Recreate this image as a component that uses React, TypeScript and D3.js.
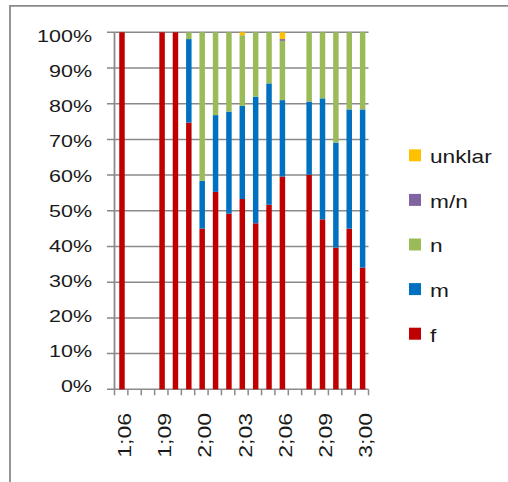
import React from 'react';
import * as d3 from 'd3';

// Monthly age points (years;months)
const categories = [
  '1;06', '1;07', '1;08', '1;09', '1;10', '1;11',
  '2;00', '2;01', '2;02', '2;03', '2;04', '2;05',
  '2;06', '2;07', '2;08', '2;09', '2;10', '2;11', '3;00',
];
const xTickLabels = ['1;06', '1;09', '2;00', '2;03', '2;06', '2;09', '3;00'];

// Stacked shares in percent, bottom to top: f, m, n, m/n, unklar
const seriesNames = ['f', 'm', 'n', 'm/n', 'unklar'];
const seriesColors = ['#C00000', '#0070C0', '#9BBB59', '#8064A2', '#FFC000'];
const fValues = [100, 0, 0, 100, 100, 74.7, 45.0, 55.3, 49.2, 53.3, 46.5, 51.7, 59.6, 0, 60.1, 47.6, 39.7, 45.0, 34.1];
const mValues = [0, 0, 0, 0, 0, 23.4, 13.4, 21.5, 28.6, 26.1, 35.5, 34.0, 21.4, 0, 20.5, 33.9, 29.4, 33.4, 44.3];
const nValues = [0, 0, 0, 0, 0, 1.9, 41.6, 23.2, 22.2, 19.8, 18.0, 14.3, 16.6, 0, 19.4, 18.5, 30.9, 21.6, 21.6];
const mnValues = [0, 0, 0, 0, 0, 0, 0, 0, 0, 0, 0, 0, 0.5, 0, 0, 0, 0, 0, 0];
const unklarValues = [0, 0, 0, 0, 0, 0, 0, 0, 0, 0.8, 0, 0, 1.9, 0, 0, 0, 0, 0, 0];

const yTicks = [0, 10, 20, 30, 40, 50, 60, 70, 80, 90, 100];

const FONT = '"Liberation Sans", Arial, sans-serif';
const AXIS_GREY = '#8a8a8a';

export default function App() {
  const width = 508;
  const height = 482;

  const x = d3.scaleBand<string>().domain(categories).range([114.5, 368.5]).padding(0);
  const y = d3.scaleLinear().domain([0, 100]).range([389.3, 32.3]);
  const yLabelPos = d3.scaleLinear().domain([0, 100]).range([386.2, 35.5]);
  const legendY = d3.scaleLinear().domain([0, seriesNames.length - 1]).range([155.3, 333.7]);

  const valuesBySeries: Record<string, number[]> = {
    f: fValues,
    m: mValues,
    n: nValues,
    'm/n': mnValues,
    unklar: unklarValues,
  };
  const rows = categories.map((cat, i) => {
    const row: Record<string, any> = { cat };
    seriesNames.forEach((s) => (row[s] = valuesBySeries[s][i]));
    return row;
  });
  const stacked = d3.stack<Record<string, any>>().keys(seriesNames)(rows);

  const barW = x.bandwidth() * 0.41;
  const [x0, x1] = x.range();
  const boundaries = d3.range(categories.length + 1).map((i) => x0 + i * x.step());
  const legendOrder = [...seriesNames].reverse();

  return (
    <svg
      width={width}
      height={height}
      style={{ position: 'absolute', left: 0, top: 0, background: '#fff' }}
      fontFamily={FONT}
    >
      {/* chart frame */}
      <path d={`M10,${height} V5.8 H${width}`} fill="none" stroke={AXIS_GREY} strokeWidth={1.8} />

      {/* horizontal gridlines with left ticks */}
      {yTicks.map((t) => (
        <line key={'g' + t} x1={107} x2={x1} y1={y(t)} y2={y(t)} stroke={AXIS_GREY} strokeWidth={1.5} />
      ))}

      {/* y axis line */}
      <line x1={x0} x2={x0} y1={y(100)} y2={y(0) + 0.75} stroke={AXIS_GREY} strokeWidth={1.8} />

      {/* x axis ticks */}
      {boundaries.map((bx, i) => (
        <line key={'xt' + i} x1={bx} x2={bx} y1={y(0)} y2={y(0) + 6} stroke={AXIS_GREY} strokeWidth={1.5} />
      ))}

      {/* stacked bars */}
      {stacked.map((layer, si) => (
        <g key={layer.key} fill={seriesColors[si]}>
          {layer.map((d, i) => {
            const h = y(d[0]) - y(d[1]);
            if (h <= 0) return null;
            const cx = (x(categories[i]) as number) + x.bandwidth() / 2;
            return <rect key={i} x={cx - barW / 2 + 0.8} y={y(d[1])} width={barW} height={h} />;
          })}
        </g>
      ))}

      {/* y tick labels */}
      {yTicks.map((t) => (
        <text
          key={'yl' + t}
          transform={`translate(92,${yLabelPos(t)}) scale(1.265,1)`}
          dy="0.36em"
          textAnchor="end"
          fontSize={17}
          fill="#1a1a1a"
        >
          {t + '%'}
        </text>
      ))}

      {/* x tick labels */}
      {xTickLabels.map((lbl) => {
        const cx = (x(lbl) as number) + x.bandwidth() / 2;
        return (
          <text
            key={'xl' + lbl}
            transform={`translate(${cx + 10},413) rotate(-90) scale(1.28,1)`}
            textAnchor="end"
            fontSize={18}
            fill="#1a1a1a"
          >
            {lbl}
          </text>
        );
      })}

      {/* legend */}
      {legendOrder.map((name, i) => {
        const cy = legendY(i);
        const color = seriesColors[seriesNames.indexOf(name)];
        return (
          <g key={'lg' + name}>
            <rect x={409} y={cy - 6} width={12} height={12} fill={color} />
            <text
              transform={`translate(430,${cy}) scale(1.26,1)`}
              dy="0.44em"
              fontSize={18}
              fill="#1a1a1a"
            >
              {name}
            </text>
          </g>
        );
      })}
    </svg>
  );
}
